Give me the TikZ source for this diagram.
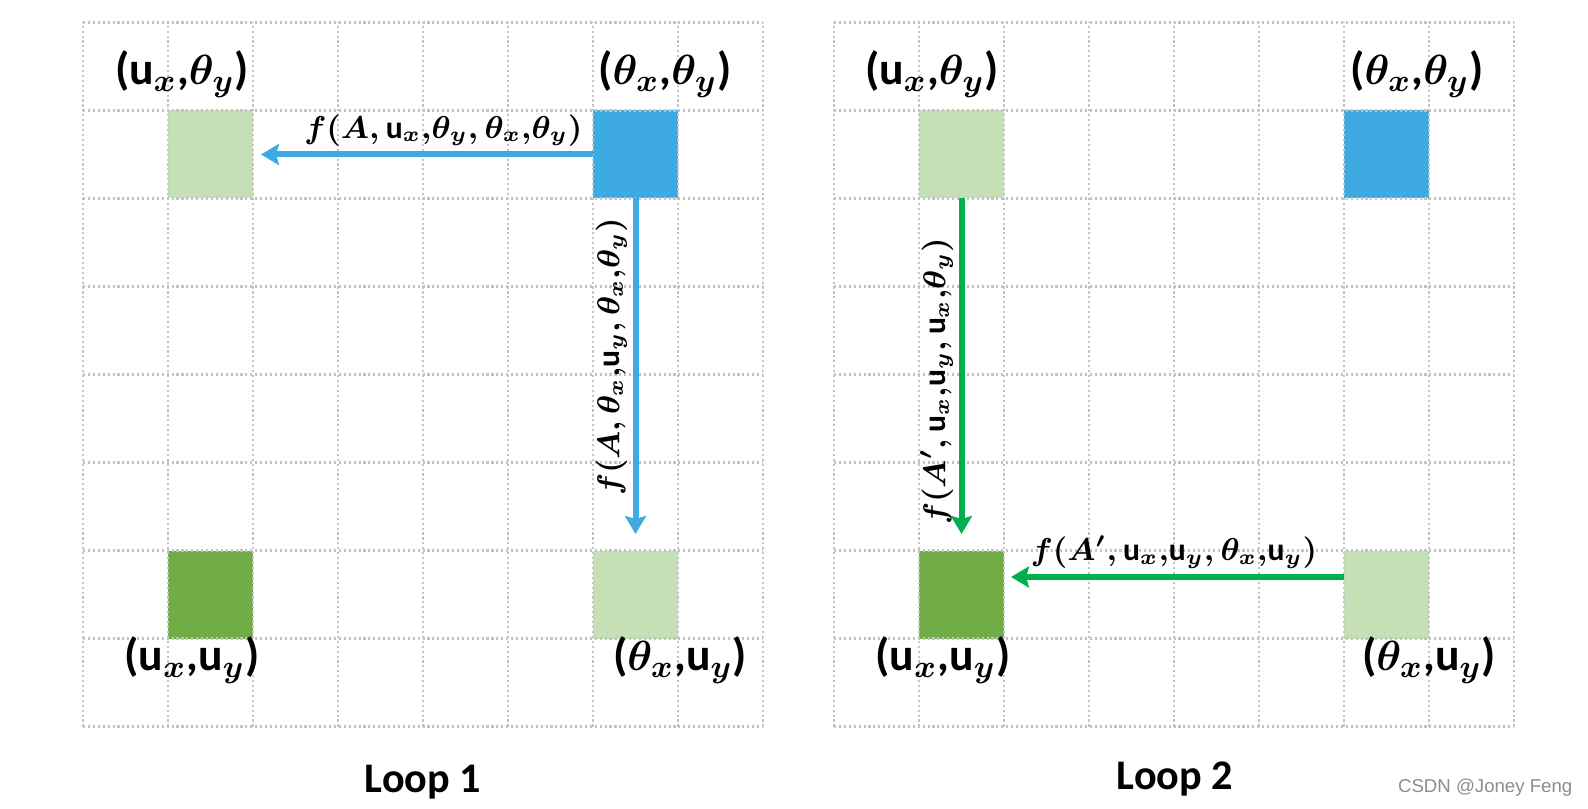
\documentclass[tikz,border=0pt]{standalone}
\usepackage{fontspec}
\setmainfont{Carlito}
\newfontfamily\markfont{Liberation Sans}
\usetikzlibrary{arrows.meta}
\definecolor{cellblue}{RGB}{61,170,225}
\definecolor{celllight}{RGB}{197,224,180}
\definecolor{celldark}{RGB}{112,173,71}
\definecolor{arrgreen}{RGB}{0,176,80}
\definecolor{gridgray}{RGB}{195,195,195}
\newcommand{\uvar}{\textbf{u}}

\begin{document}
\begin{tikzpicture}[line join=round,line cap=round,font=\bfseries\boldmath,
	>={Stealth[length=1.8mm,width=2.1mm,inset=0.3mm]},
	cell/.style={minimum width=0.85cm,minimum height=0.88cm,inner sep=0pt,outer sep=0pt},
	corner/.style={font=\fontsize{13}{15}\selectfont\bfseries\boldmath},
	flabel/.style={font=\fontsize{9}{11}\selectfont\bfseries\boldmath,text=black,inner sep=1.5pt},
	gridline/.style={gridgray,line width=0.6pt,line cap=butt,dash pattern=on 0.6pt off 0.8pt},
	bluearrow/.style={->,cellblue,line width=0.06cm,line cap=butt},
	greenarrow/.style={->,arrgreen,line width=0.06cm,line cap=butt}]
	\useasboundingbox (0,0) rectangle (15.88,8.08);
	% Loop 1
	\node[cell,fill=celllight] (uxty1) at (2.105,6.535) {};
	\node[cell,fill=cellblue] (txty1) at (6.355,6.535) {};
	\node[cell,fill=celldark] (uxuy1) at (2.105,2.135) {};
	\node[cell,fill=celllight] (txuy1) at (6.355,2.135) {};
	% Loop 2
	\node[cell,fill=celllight] (uxty2) at (9.615,6.535) {};
	\node[cell,fill=cellblue] (txty2) at (13.865,6.535) {};
	\node[cell,fill=celldark] (uxuy2) at (9.615,2.135) {};
	\node[cell,fill=celllight] (txuy2) at (13.865,2.135) {};
	\foreach \gx in {0.83,8.34}
		\draw[gridline,shift={(\gx,0.815)}] (0,0) grid[xstep=0.85,ystep=0.88] (6.801,7.041);
	\node[corner] (luxty) at (1.82,7.34) {($\uvar_x$,$\theta_y$)};
	\node[corner] (ltxty) at (6.65,7.34) {($\theta_x$,$\theta_y$)};
	\node[corner] (luxuy) at (1.92,1.48) {($\uvar_x$,$\uvar_y$)};
	\node[corner] (ltxuy) at (6.80,1.48) {($\theta_x$,$\uvar_y$)};
	\node[corner] (ruxty) at (9.32,7.34) {($\uvar_x$,$\theta_y$)};
	\node[corner] (rtxty) at (14.17,7.34) {($\theta_x$,$\theta_y$)};
	\node[corner] (ruxuy) at (9.43,1.48) {($\uvar_x$,$\uvar_y$)};
	\node[corner] (rtxuy) at (14.29,1.48) {($\theta_x$,$\uvar_y$)};
	\draw[bluearrow,shorten >=0.08cm] (txty1.west) -- (uxty1.east)
		node[flabel,above,pos=0.44] {$f(A,\uvar_x{,}\theta_y,\theta_x{,}\theta_y)$};
	\draw[bluearrow,shorten >=0.165cm] (txty1.south) -- (txuy1.north)
		node[flabel,pos=0.45,rotate=90,anchor=south] {$f(A,\theta_x{,}\uvar_y,\theta_x{,}\theta_y)$};
	\draw[greenarrow,shorten >=0.165cm] (uxty2.south) -- (uxuy2.north)
		node[flabel,pos=0.52,rotate=90,anchor=south] {$f(A',\uvar_x{,}\uvar_y,\uvar_x{,}\theta_y)$};
	\draw[greenarrow,shorten >=0.07cm] ([yshift=0.175cm]txuy2.west) -- ([yshift=0.175cm]uxuy2.east)
		node[flabel,midway,above] {$f(A',\uvar_x{,}\uvar_y,\theta_x{,}\uvar_y)$};
	\node[font=\fontsize{12}{14}\selectfont\bfseries] (loopa) at (4.23,0.26) {Loop 1};
	\node[font=\fontsize{12}{14}\selectfont\bfseries] (loopb) at (11.75,0.29) {Loop 2};
	\node[font=\fontsize{5.3}{6}\selectfont\markfont,text=black!45,anchor=east,inner sep=0pt] (mark) at (15.73,0.20) {CSDN @Joney Feng};
\end{tikzpicture}
\end{document}
